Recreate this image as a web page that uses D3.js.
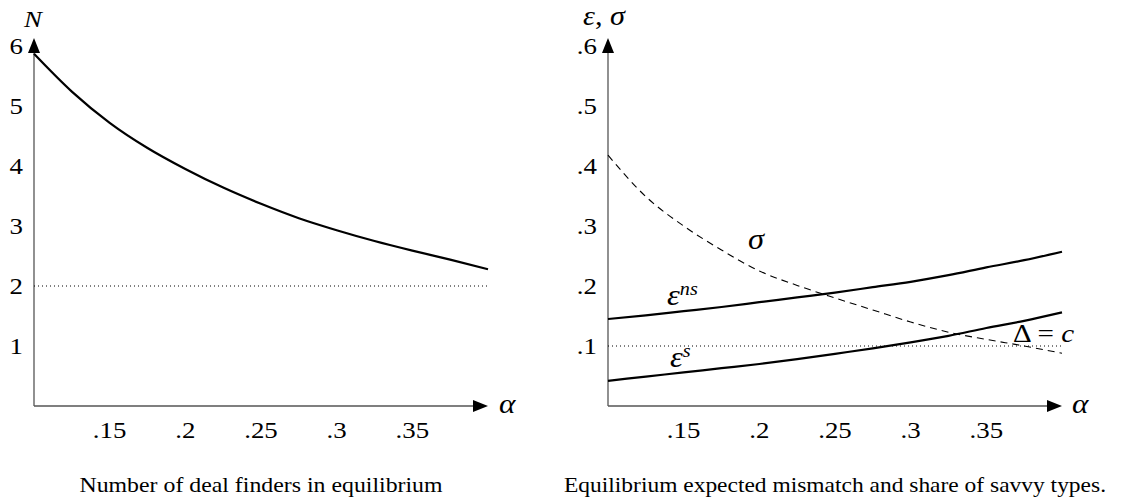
<!DOCTYPE html>
<html>
<head>
<meta charset="utf-8">
<script src="https://cdn.jsdelivr.net/npm/d3@7"></script>
<style>
  body { margin: 0; background: #fff; }
  svg { display: block; }
  text { font-family: "Liberation Serif", "Times New Roman", serif; fill: #000; }
</style>
</head>
<body>
<div id="chart"></div>
<script>
// values
const alpha = [0.1, 0.125, 0.15, 0.175, 0.2, 0.225, 0.25, 0.275, 0.3, 0.325, 0.35, 0.375, 0.4];
const dealFinders = [5.87, 5.24, 4.72, 4.30, 3.95, 3.64, 3.37, 3.13, 2.93, 2.75, 2.59, 2.44, 2.28];
const sigma = [0.418, 0.349, 0.300, 0.260, 0.225, 0.201, 0.180, 0.160, 0.140, 0.123, 0.111, 0.100, 0.088];
const epsNs = [0.145, 0.151, 0.158, 0.165, 0.173, 0.181, 0.189, 0.198, 0.207, 0.218, 0.231, 0.243, 0.257];
const epsS = [0.042, 0.049, 0.056, 0.063, 0.070, 0.078, 0.087, 0.096, 0.106, 0.117, 0.130, 0.142, 0.156];

const xTicks = [0.15, 0.2, 0.25, 0.3, 0.35];
const xTickLabels = [".15", ".2", ".25", ".3", ".35"];
const leftYTicks = [1, 2, 3, 4, 5, 6];
const leftYTickLabels = ["1", "2", "3", "4", "5", "6"];
const rightYTicks = [0.1, 0.2, 0.3, 0.4, 0.5, 0.6];
const rightYTickLabels = [".1", ".2", ".3", ".4", ".5", ".6"];
const leftCaption = "Number of deal finders in equilibrium";
const rightCaption = "Equilibrium expected mismatch and share of savvy types.";

const W = 1128, H = 504;
const SX = 1.12; // the reference text is a bit wider than plain Times

const svg = d3.select("#chart").append("svg")
    .attr("width", W)
    .attr("height", H);

// helper: text at x,y, stretched horizontally
function label(g, x, y, parts, size, anchor) {
    const t = g.append("g")
        .attr("transform", "translate(" + x + "," + y + ")")
        .append("text")
        .attr("transform", "scale(" + SX + ",1)")
        .attr("font-size", size)
        .attr("text-anchor", anchor || "start");
    if (typeof parts === "string") parts = [{t: parts}];
    parts.forEach(function (p) {
        const s = t.append("tspan").text(p.t);
        if (p.italic) s.attr("font-style", "italic");
        if (p.size) s.attr("font-size", p.size);
        if (p.dy) s.attr("dy", p.dy);
        if (p.dx) s.attr("dx", p.dx);
    });
    return t;
}

function panel(x0, x1, yMax, yTicks, yTickLabels) {
    const x = d3.scaleLinear().domain([0.1, 0.4]).range([x0, x1]);
    const y = d3.scaleLinear().domain([0, yMax]).range([406, 46]);
    const g = svg.append("g");

    // axes with arrow heads
    g.append("line")
        .attr("x1", x(0.1)).attr("y1", y(0))
        .attr("x2", x(0.4) - 12).attr("y2", y(0))
        .attr("stroke", "#555").attr("stroke-width", 1.3);
    g.append("path")
        .attr("d", "M" + x(0.4) + "," + y(0) + "l-15,-6l0,12z")
        .attr("fill", "#000");
    g.append("line")
        .attr("x1", x(0.1)).attr("y1", y(0))
        .attr("x2", x(0.1)).attr("y2", y(yMax) - 4)
        .attr("stroke", "#555").attr("stroke-width", 1.3);
    g.append("path")
        .attr("d", "M" + x(0.1) + "," + (y(yMax) - 8) + "l-6,15l12,0z")
        .attr("fill", "#000");

    // tick labels
    xTicks.forEach(function (v, i) {
        label(g, x(v), y(0) + 32, xTickLabels[i], 24, "middle");
    });
    yTicks.forEach(function (v, i) {
        label(g, x(0.1) - 11, y(v) + 8, yTickLabels[i], 24, "end");
    });
    return {g: g, x: x, y: y};
}

function curve(p, values, opts) {
    const line = d3.line()
        .x(function (d, i) { return p.x(alpha[i]); })
        .y(function (d) { return p.y(d); })
        .curve(d3.curveMonotoneX);
    return p.g.append("path")
        .datum(values)
        .attr("d", line)
        .attr("fill", "none")
        .attr("stroke", "#000")
        .attr("stroke-width", opts.width)
        .attr("stroke-dasharray", opts.dash || null);
}

function refLine(p, v) {
    p.g.append("line")
        .attr("x1", p.x(0.1)).attr("x2", p.x(0.4))
        .attr("y1", p.y(v)).attr("y2", p.y(v))
        .attr("stroke", "#000").attr("stroke-width", 1)
        .attr("stroke-dasharray", "1,3");
}

// left panel
const L = panel(34, 488, 6, leftYTicks, leftYTickLabels);
refLine(L, 2);
curve(L, dealFinders, {width: 2.2});
label(L.g, 33, 27, [{t: "N", italic: true}], 24, "middle");
label(L.g, 499, 413, [{t: "α", italic: true}], 28);
label(L.g, 261, 492, leftCaption, 21, "middle")
    .attr("textLength", 363 / SX).attr("lengthAdjust", "spacingAndGlyphs");

// right panel
const R = panel(608, 1062, 0.6, rightYTicks, rightYTickLabels);
refLine(R, 0.1);
curve(R, sigma, {width: 1.1, dash: "7,5"});
curve(R, epsNs, {width: 2.2});
curve(R, epsS, {width: 2.2});
label(R.g, 583, 25, [{t: "ε", italic: true}, {t: ", "}, {t: "σ", italic: true}], 27);
label(R.g, 1072, 413, [{t: "α", italic: true}], 28);
label(R.g, R.x(0.1925), R.y(0.262), [{t: "σ", italic: true}], 29);
label(R.g, R.x(0.139), R.y(0.168), [{t: "ε", italic: true}, {t: "ns", italic: true, size: 18, dy: -10}], 29);
label(R.g, R.x(0.141), R.y(0.065), [{t: "ε", italic: true}, {t: "s", italic: true, size: 18, dy: -10}], 29);
label(R.g, R.x(0.3677), R.y(0.107), [{t: "Δ = "}, {t: "c", italic: true}], 26);
label(R.g, 835, 492, rightCaption, 21, "middle")
    .attr("textLength", 542 / SX).attr("lengthAdjust", "spacingAndGlyphs");
</script>
</body>
</html>
